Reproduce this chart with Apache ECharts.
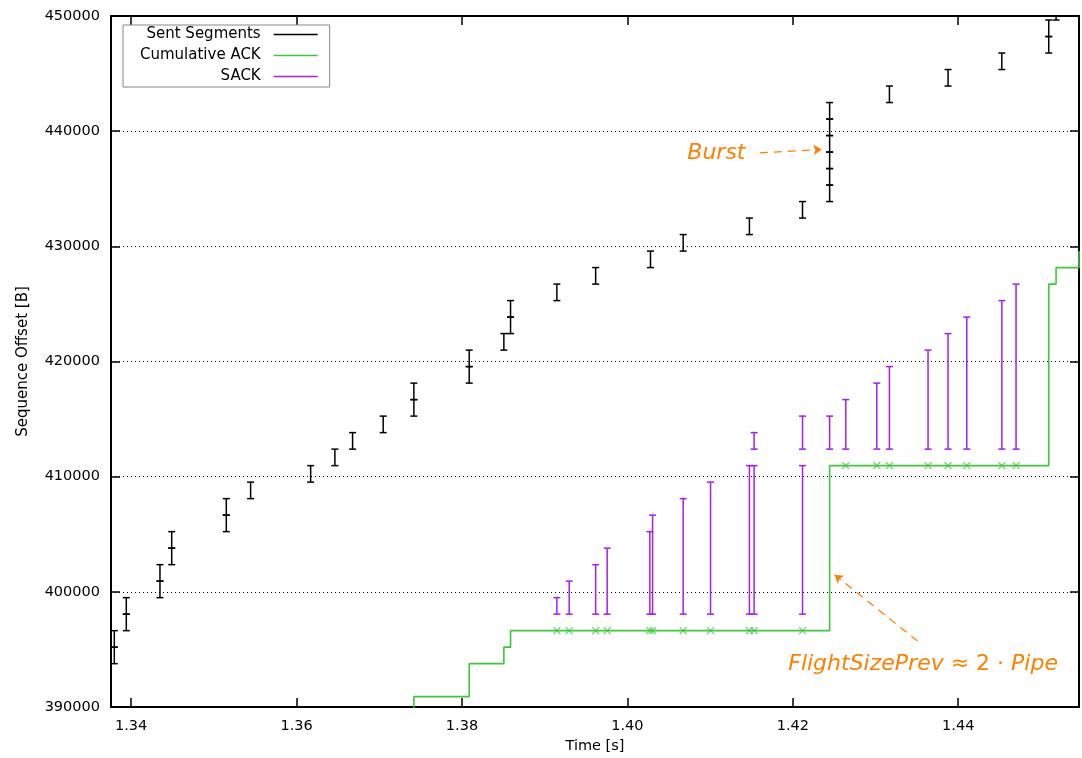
<!DOCTYPE html>
<html>
<head>
<meta charset="utf-8">
<script src="https://cdn.jsdelivr.net/npm/echarts@6/dist/echarts.min.js"></script>
<style>
  html, body { margin: 0; padding: 0; background: #fff; }
  #chart { width: 1082px; height: 758px; }
</style>
</head>
<body>
<div id="chart"></div>
<script>
// ---- TCP trace: sent segments, cumulative ACKs and SACK blocks ----

// Sent segments: send time [s], first and last byte offset [B]
const sentTime = [
  1.33796, 1.33796, 1.33941, 1.33941, 1.34348, 1.34348, 1.34490, 1.34490,
  1.35150, 1.35150, 1.35444, 1.36170, 1.36463, 1.36677, 1.37047,
  1.37418, 1.37418, 1.38087, 1.38087, 1.38506, 1.38587, 1.38587,
  1.39147, 1.39616, 1.40279, 1.40674, 1.41475, 1.42117,
  1.42445, 1.42445, 1.42445, 1.42445, 1.42445, 1.42445,
  1.43168, 1.43877, 1.44527, 1.45094, 1.45094, 1.45183
];
const sentStart = [
  393763, 395196, 396629, 398062, 399495, 400928, 402361, 403794,
  405227, 406660, 408093, 409526, 410959, 412392, 413825,
  415258, 416691, 418124, 419557, 420990, 422423, 423856,
  425289, 426722, 428155, 429588, 431021, 432454,
  433887, 435320, 436753, 438186, 439619, 441052,
  442485, 443918, 445351, 446784, 448217, 449650
];
const sentEnd = [
  395196, 396629, 398062, 399495, 400928, 402361, 403794, 405227,
  406660, 408093, 409526, 410959, 412392, 413825, 415258,
  416691, 418124, 419557, 420990, 422423, 423856, 425289,
  426722, 428155, 429588, 431021, 432454, 433887,
  435320, 436753, 438186, 439619, 441052, 442485,
  443918, 445351, 446784, 448217, 449650, 451083
];

// Cumulative ACK: arrival time [s] and acknowledged offset [B]
const ackTime = [
  1.33756, 1.37418, 1.38087, 1.38506, 1.38587,
  1.39147, 1.39296, 1.39616, 1.39755, 1.40271, 1.40304, 1.40674, 1.41005,
  1.41475, 1.41532, 1.42117,
  1.42445, 1.42640, 1.43015, 1.43168, 1.43635, 1.43877, 1.44103, 1.44527, 1.44699,
  1.45094, 1.45183, 1.45460
];
const ackValue = [
  389464, 390897, 393763, 395196, 396629,
  396629, 396629, 396629, 396629, 396629, 396629, 396629, 396629,
  396629, 396629, 396629,
  410959, 410959, 410959, 410959, 410959, 410959, 410959, 410959, 410959,
  426722, 428155, 429588
];

// Duplicate ACKs (marked with a cross)
const dupAckTime = [
  1.39147, 1.39296, 1.39616, 1.39755, 1.40271, 1.40304, 1.40674, 1.41005,
  1.41475, 1.41532, 1.42117,
  1.42640, 1.43015, 1.43168, 1.43635, 1.43877, 1.44103, 1.44527, 1.44699
];
const dupAckValue = [
  396629, 396629, 396629, 396629, 396629, 396629, 396629, 396629,
  396629, 396629, 396629,
  410959, 410959, 410959, 410959, 410959, 410959, 410959, 410959
];

// SACK blocks carried by the ACKs: time [s], left and right edge [B]
const sackTime = [
  1.39147, 1.39296, 1.39616, 1.39755, 1.40271, 1.40304, 1.40674, 1.41005,
  1.41475, 1.41532, 1.41532, 1.42117, 1.42117,
  1.42445, 1.42640, 1.43015, 1.43168, 1.43635, 1.43877, 1.44103, 1.44527, 1.44699
];
const sackLeft = [
  398062, 398062, 398062, 398062, 398062, 398062, 398062, 398062,
  398062, 398062, 412392, 398062, 412392,
  412392, 412392, 412392, 412392, 412392, 412392, 412392, 412392, 412392
];
const sackRight = [
  399495, 400928, 402361, 403794, 405227, 406660, 408093, 409526,
  410959, 410959, 413825, 410959, 415258,
  415258, 416691, 418124, 419557, 420990, 422423, 423856, 425289, 426722
];

// Axis ticks
const xTicks = [1.34, 1.36, 1.38, 1.40, 1.42, 1.44];
const xRange = [1.33756, 1.45460];
const yRange = [390000, 450000];
const yStep = 10000;

// ---- drawing ----
const FONT = 'DejaVu Sans';
const ORANGE = '#ff8000';
const GREEN = '#3cc83c';
const PURPLE = '#a020f0';

const zip3 = (a, b, c) => a.map((v, i) => [v, b[i], c[i]]);

// vertical range bar with short caps at both ends
function rangeBar(params, api) {
  const lo = api.coord([api.value(0), api.value(1)]);
  const hi = api.coord([api.value(0), api.value(2)]);
  const color = api.visual('color');
  const half = 3.5;
  const style = { stroke: color, lineWidth: 1.5, fill: null };
  return {
    type: 'group',
    children: [
      { type: 'line', shape: { x1: lo[0], y1: lo[1], x2: hi[0], y2: hi[1] }, style },
      { type: 'line', shape: { x1: lo[0] - half, y1: lo[1], x2: lo[0] + half, y2: lo[1] }, style },
      { type: 'line', shape: { x1: hi[0] - half, y1: hi[1], x2: hi[0] + half, y2: hi[1] }, style }
    ]
  };
}

const axisLineStyle = { color: '#000', width: 2 };
const tickStyle = { color: '#000', width: 1.5 };
const labelStyle = { fontFamily: FONT, fontSize: 14.5, color: '#000' };

const chart = echarts.init(document.getElementById('chart'), null, { renderer: 'canvas' });

const option = {
  animation: false,
  backgroundColor: '#fff',
  grid: { left: 111, right: 3, top: 16, bottom: 51, outerBoundsMode: 'none', containLabel: false },
  xAxis: [
    {
      type: 'value', position: 'bottom', min: xRange[0], max: xRange[1],
      name: 'Time [s]', nameLocation: 'middle', nameGap: 32,
      nameTextStyle: labelStyle,
      axisLine: { show: true, onZero: false, lineStyle: axisLineStyle },
      axisTick: { show: true, inside: true, length: 9, customValues: xTicks, lineStyle: tickStyle },
      axisLabel: { customValues: xTicks, formatter: v => v.toFixed(2), margin: 12, ...labelStyle },
      splitLine: { show: false }
    },
    {
      type: 'value', position: 'top', min: xRange[0], max: xRange[1],
      axisLine: { show: true, onZero: false, lineStyle: axisLineStyle },
      axisTick: { show: true, inside: true, length: 9, customValues: xTicks, lineStyle: tickStyle },
      axisLabel: { show: false },
      splitLine: { show: false }
    }
  ],
  yAxis: [
    {
      type: 'value', position: 'left', min: yRange[0], max: yRange[1], interval: yStep,
      name: 'Sequence Offset [B]', nameLocation: 'middle', nameGap: 80,
      nameTextStyle: { ...labelStyle, fontSize: 15 },
      axisLine: { show: true, onZero: false, lineStyle: axisLineStyle },
      axisTick: { show: true, inside: true, length: 9, lineStyle: tickStyle },
      axisLabel: { formatter: v => String(v), margin: 11, showMinLabel: true, showMaxLabel: true, ...labelStyle },
      splitLine: { show: true, lineStyle: { type: [1, 3], color: '#000', width: 1 } }
    },
    {
      type: 'value', position: 'right', min: yRange[0], max: yRange[1], interval: yStep,
      axisLine: { show: true, onZero: false, lineStyle: axisLineStyle },
      axisTick: { show: true, inside: true, length: 9, lineStyle: tickStyle },
      axisLabel: { show: false },
      splitLine: { show: false }
    }
  ],
  legend: {
    left: 123, top: 25, orient: 'vertical', align: 'right',
    data: [
      { name: 'Sent Segments', icon: 'rect' },
      { name: 'Cumulative ACK', icon: 'rect' },
      { name: 'SACK', icon: 'rect' }
    ],
    itemWidth: 44, itemHeight: 1.5, itemGap: 6,
    padding: [2, 12, 3, 17],
    borderColor: '#888', borderWidth: 1, borderRadius: 0, backgroundColor: '#fff',
    selectedMode: false,
    formatter: name => '{t|' + name + '}',
    textStyle: {
      fontFamily: FONT, fontSize: 15, color: '#000',
      rich: { t: { width: 123, height: 16, align: 'right', padding: [0, 8, 0, 0], fontFamily: FONT, fontSize: 15, color: '#000' } }
    }
  },
  series: [
    {
      name: 'Cumulative ACK', type: 'line', step: 'end',
      data: ackTime.map((t, i) => [t, ackValue[i]]),
      showSymbol: false, clip: true, z: 2,
      color: GREEN,
      itemStyle: { color: GREEN },
      lineStyle: { color: GREEN, width: 1.6 }
    },
    {
      name: 'Duplicate ACK', type: 'scatter',
      data: dupAckTime.map((t, i) => [t, dupAckValue[i]]),
      symbol: 'path://M0,0L10,10M10,0L0,10', symbolSize: 7, z: 3,
      itemStyle: { color: 'rgba(0,0,0,0)', borderColor: GREEN, borderWidth: 1.2 },
      silent: true,
      markLine: {
        silent: true, symbol: ['none', 'arrow'], symbolSize: 8,
        label: { show: false },
        lineStyle: { color: ORANGE, type: [8, 6], width: 1.2 },
        data: [
          [{ coord: [1.41601, 438112] }, { coord: [1.42346, 438408] }],
          [{ coord: [1.43507, 395737] }, { coord: [1.42507, 401476] }]
        ]
      }
    },
    {
      name: 'SACK', type: 'custom', renderItem: rangeBar, clip: true, z: 3,
      color: PURPLE, itemStyle: { color: PURPLE },
      encode: { x: 0, y: [1, 2] },
      data: zip3(sackTime, sackLeft, sackRight)
    },
    {
      name: 'Sent Segments', type: 'custom', renderItem: rangeBar, clip: true, z: 4,
      color: '#000', itemStyle: { color: '#000' },
      encode: { x: 0, y: [1, 2] },
      data: zip3(sentTime, sentStart, sentEnd)
    }
  ]
};

chart.setOption(option);

// text annotations placed at data coordinates
const burstAt = chart.convertToPixel({ gridIndex: 0 }, [1.41076, 438087]);
const flightAt = chart.convertToPixel({ gridIndex: 0 }, [1.43575, 393737]);
chart.setOption({
  graphic: [
    {
      type: 'text', x: burstAt[0], y: burstAt[1], silent: true,
      style: {
        text: 'Burst', align: 'center', verticalAlign: 'middle',
        fontFamily: FONT, fontSize: 22, fontStyle: 'italic', fill: ORANGE
      }
    },
    {
      type: 'text', x: flightAt[0], y: flightAt[1], silent: true,
      style: {
        text: '{i|FlightSizePrev} {n|≈ 2 ·} {i|Pipe}',
        align: 'center', verticalAlign: 'middle',
        fontFamily: FONT, fontSize: 22, fill: ORANGE,
        rich: {
          i: { fontFamily: FONT, fontSize: 22, fontStyle: 'italic', fill: ORANGE },
          n: { fontFamily: FONT, fontSize: 22, fontStyle: 'normal', fill: ORANGE }
        }
      }
    }
  ]
});
</script>
</body>
</html>
